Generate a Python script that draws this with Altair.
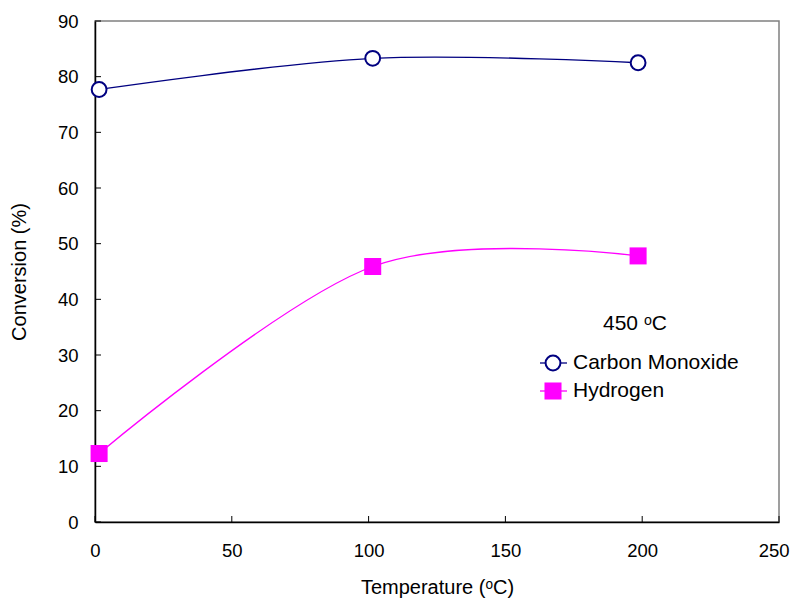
import altair as alt
import pandas as pd

# ---- data ----
temps = [1.5, 101.5, 198.5]
co_conv = [77.7, 83.3, 82.5]
h2_conv = [12.3, 45.9, 47.8]
series_names = ["Carbon Monoxide", "Hydrogen"]
x_ticks = [0, 50, 100, 150, 200, 250]
y_ticks = [0, 10, 20, 30, 40, 50, 60, 70, 80, 90]

FONT = "Liberation Sans"
W, H = 684, 501
NAVY = "#000080"
MAG = "#FF00FF"

co_df = pd.DataFrame({"T": temps, "conv": co_conv, "series": series_names[0]})
h2_df = pd.DataFrame({"T": temps, "conv": h2_conv, "series": series_names[1]})

xscale = alt.Scale(domain=[0, 250], nice=False, zero=False)
yscale = alt.Scale(domain=[0, 90], nice=False)

xaxis = alt.Axis(values=x_ticks, tickSize=0, labelPadding=19, labelFontSize=18.5,
                 labelFont=FONT, labelColor="black", title="Temperature (ᵒC)",
                 labelAlign={"condition": {"test": "datum.value >= 250", "value": "right"},
                             "value": "center"},
                 labelOffset={"condition": {"test": "datum.value >= 250", "value": 10},
                              "value": 0},
                 titleFont=FONT, titleFontSize=20, titleFontWeight="normal",
                 titleColor="black", titlePadding=18, domainColor="black",
                 domainWidth=1.5, grid=False, labelFlush=False)
yaxis = alt.Axis(values=y_ticks, tickSize=0, labelPadding=17, labelFontSize=18.5,
                 labelFont=FONT, labelColor="black", title="Conversion (%)",
                 titleFont=FONT, titleFontSize=20, titleFontWeight="normal",
                 titleColor="black", titlePadding=28, domainColor="black",
                 domainWidth=1.5, grid=False, labelFlush=False)

x_enc = alt.X("T:Q", scale=xscale, axis=xaxis)
y_enc = alt.Y("conv:Q", scale=yscale, axis=yaxis)

co_line = alt.Chart(co_df).mark_line(color=NAVY, strokeWidth=1.3,
                                     interpolate="cardinal", tension=0).encode(x=x_enc, y=y_enc)
co_pts = alt.Chart(co_df).mark_point(shape="circle", filled=True, fill="white",
                                     stroke=NAVY, strokeWidth=2, size=220,
                                     opacity=1).encode(x=x_enc, y=y_enc)
h2_line = alt.Chart(h2_df).mark_line(color=MAG, strokeWidth=1.3,
                                     interpolate="cardinal", tension=0).encode(x=x_enc, y=y_enc)
h2_pts = alt.Chart(h2_df).mark_point(shape="square", filled=True, color=MAG,
                                     size=290, opacity=1).encode(x=x_enc, y=y_enc)

# inward ticks
xt_df = pd.DataFrame({"T": x_ticks})
yt_df = pd.DataFrame({"conv": y_ticks})
x_tick_rules = alt.Chart(xt_df).mark_rule(color="black", strokeWidth=1).encode(
    x=x_enc, y=alt.value(H), y2=alt.value(H - 6))
y_tick_rules = alt.Chart(yt_df).mark_rule(color="black", strokeWidth=1).encode(
    y=y_enc, x=alt.value(0), x2=alt.value(6))

# legend (manual)
leg_x0, leg_x1, leg_mx, leg_tx = 445, 472, 458, 478
row_co, row_h2 = 342, 370
ann = alt.Chart(pd.DataFrame({"t": ["450 ᵒC"]})).mark_text(
    font=FONT, fontSize=21, align="center", baseline="middle", color="black").encode(
    text="t:N", x=alt.value(540), y=alt.value(303))

leg_co_line = alt.Chart(pd.DataFrame({"a": [0]})).mark_rule(color=NAVY, strokeWidth=1.3).encode(
    x=alt.value(leg_x0), x2=alt.value(leg_x1), y=alt.value(row_co))
leg_co_pt = alt.Chart(pd.DataFrame({"a": [0]})).mark_point(
    shape="circle", filled=True, fill="white", stroke=NAVY, strokeWidth=2, size=220, opacity=1).encode(
    x=alt.value(leg_mx), y=alt.value(row_co))
leg_co_txt = alt.Chart(pd.DataFrame({"t": [series_names[0]]})).mark_text(
    font=FONT, fontSize=21, align="left", baseline="middle", color="black").encode(
    text="t:N", x=alt.value(leg_tx), y=alt.value(row_co))
leg_h2_line = alt.Chart(pd.DataFrame({"a": [0]})).mark_rule(color=MAG, strokeWidth=1.3).encode(
    x=alt.value(leg_x0), x2=alt.value(leg_x1), y=alt.value(row_h2))
leg_h2_pt = alt.Chart(pd.DataFrame({"a": [0]})).mark_point(
    shape="square", filled=True, color=MAG, size=290, opacity=1).encode(
    x=alt.value(leg_mx), y=alt.value(row_h2))
leg_h2_txt = alt.Chart(pd.DataFrame({"t": [series_names[1]]})).mark_text(
    font=FONT, fontSize=21, align="left", baseline="middle", color="black").encode(
    text="t:N", x=alt.value(leg_tx), y=alt.value(row_h2))

chart = alt.layer(
    co_line, h2_line, x_tick_rules, y_tick_rules, co_pts, h2_pts,
    ann, leg_co_line, leg_co_pt, leg_co_txt, leg_h2_line, leg_h2_pt, leg_h2_txt
).properties(
    width=W, height=H,
    autosize=alt.AutoSizeParams(type="none"),
    padding={"left": 87, "top": 13, "right": 11, "bottom": 77},
    background="white",
).configure_view(stroke="#808080", strokeWidth=1.5)

chart.save("out.html", embed_options={"renderer": "svg", "actions": False})
